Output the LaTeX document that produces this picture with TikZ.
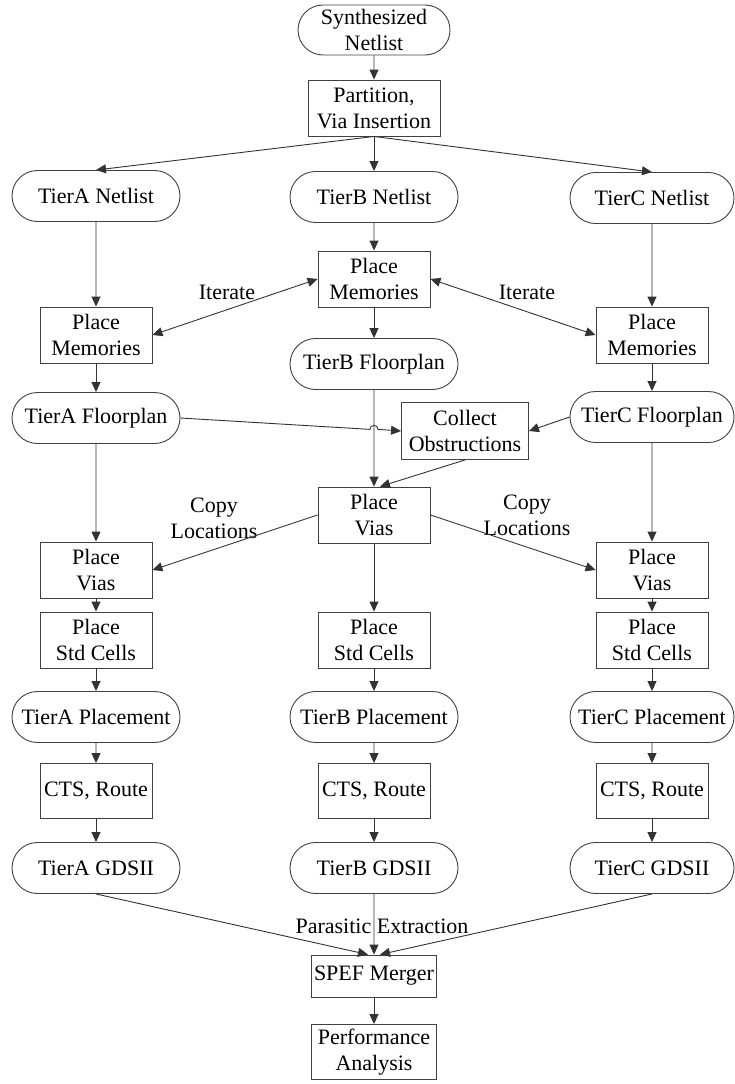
\documentclass[tikz,border=0pt]{standalone}
\usepackage{fontspec}
\setmainfont{Liberation Serif}
\usetikzlibrary{shapes.misc,arrows.meta,calc}
\begin{document}
\begin{tikzpicture}[x=1pt,y=-1pt,
  every node/.style={font=\fontsize{22}{26}\selectfont, align=center, inner sep=0pt},
  term/.style={draw=black!75, line width=0.9pt, rounded rectangle, minimum width=168pt, minimum height=51pt},
  proc/.style={draw=black!75, line width=0.9pt, rectangle, minimum width=112pt, minimum height=56pt},
  flow/.style={draw=black!80, line width=0.9pt, -{Triangle[length=10pt,width=9pt]}},
  both/.style={flow, {Triangle[length=10pt,width=9pt]}-{Triangle[length=10pt,width=9pt]}}
]
\useasboundingbox (0,0) rectangle (735,1084);

% top of the flow
\node[term, minimum width=152pt, minimum height=50pt] (syn) at (374,30) {Synthesized\\Netlist};
\node[proc, minimum width=132pt] (part) at (374,108) {Partition,\\Via Insertion};

% netlists per tier
\node[term] (anet) at (96,196) {TierA Netlist};
\node[term] (bnet) at (374,197) {TierB Netlist};
\node[term, minimum width=164pt] (cnet) at (652,198) {TierC Netlist};

% memory placement and floorplans
\node[proc] (bmem) at (374,279) {Place\\Memories};
\node[proc] (amem) at (96,335) {Place\\Memories};
\node[proc] (cmem) at (652,335) {Place\\Memories};
\node[term] (bfp) at (374,364) {TierB Floorplan};
\node[term] (afp) at (96,418) {TierA Floorplan};
\node[term, minimum width=164pt] (cfp) at (652,417) {TierC Floorplan};
\node[proc, minimum width=127pt, minimum height=57pt] (obs) at (465,431) {Collect\\Obstructions};

% via placement
\node[proc] (bvia) at (374,515) {Place\\Vias};
\node[proc] (avia) at (96,570) {Place\\Vias};
\node[proc] (cvia) at (652,570) {Place\\Vias};

% standard cells
\node[proc] (astd) at (96,640) {Place\\Std Cells};
\node[proc] (bstd) at (374,640) {Place\\Std Cells};
\node[proc] (cstd) at (652,640) {Place\\Std Cells};

\node[term] (apl) at (96,717) {TierA Placement};
\node[term] (bpl) at (374,717) {TierB Placement};
\node[term, minimum width=164pt] (cpl) at (652,717) {TierC Placement};

\node[proc, minimum height=55pt] (acts) at (96,791) {CTS, Route};
\node[proc, minimum height=55pt] (bcts) at (374,791) {CTS, Route};
\node[proc, minimum height=55pt] (ccts) at (652,791) {CTS, Route};

\node[term] (agds) at (96,868) {TierA GDSII};
\node[term] (bgds) at (374,868) {TierB GDSII};
\node[term, minimum width=164pt] (cgds) at (652,868) {TierC GDSII};

% merging and analysis
\node[proc, minimum width=125pt, minimum height=42pt] (spef) at (374,976) {SPEF Merger};
\node[proc, minimum width=125pt, minimum height=55pt] (perf) at (374,1052) {Performance\\Analysis};

% edge labels
\node (itl) at (227,292) {Iterate};
\node (itr) at (527,292) {Iterate};
\node (cpyl) at (214,518) {Copy\\Locations};
\node (cpyr) at (527,515) {Copy\\Locations};
\node (pex) at (382,926) {Parasitic Extraction};

% connectors
\draw[flow] (syn) -- (part);
\draw[flow] (part.south) -- (anet.north);
\draw[flow] (part) -- (bnet);
\draw[flow] (part.south) -- (cnet.north);

\draw[flow] (anet) -- (amem);
\draw[flow] (bnet) -- (bmem);
\draw[flow] (cnet) -- (cmem);
\draw[both] (bmem.west) -- (amem.east);
\draw[both] (bmem.east) -- (cmem.west);

\draw[flow] (bmem) -- (bfp);
\draw[flow] (amem) -- (afp);
\draw[flow] (cmem) -- (cfp);

% TierA floorplan line hops over the TierB column
\coordinate (hx) at (intersection of afp.east--obs.west and bfp.south--bvia.north);
\draw[flow] (afp.east) -- ([xshift=-4pt]hx) arc[start angle=180, end angle=0, radius=4pt] -- (obs.west);
\draw[flow] (cfp.west) -- (obs.east);

\draw[flow] (bfp) -- (bvia);
\draw[flow] (obs.south) -- ([xshift=6pt]bvia.north);
\draw[flow] (afp) -- (avia);
\draw[flow] (cfp) -- (cvia);
\draw[flow] (bvia.west) -- (avia.east);
\draw[flow] (bvia.east) -- (cvia.west);

\foreach \t in {a,b,c}{
  \draw[flow] (\t via) -- (\t std);
  \draw[flow] (\t std) -- (\t pl);
  \draw[flow] (\t pl) -- (\t cts);
  \draw[flow] (\t cts) -- (\t gds);
}

\draw[flow] (agds.south) -- ([xshift=-6pt]spef.north);
\draw[flow] (bgds) -- (spef);
\draw[flow] (cgds.south) -- ([xshift=6pt]spef.north);
\draw[flow] (spef) -- (perf);
\end{tikzpicture}
\end{document}
